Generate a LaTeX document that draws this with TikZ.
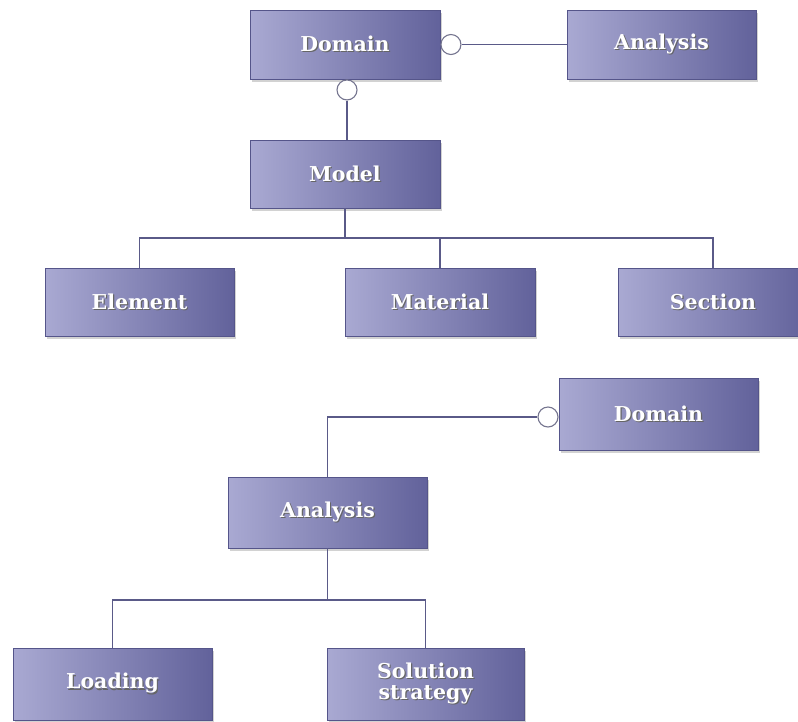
\documentclass[tikz,border=0pt]{standalone}
\usepackage{fontspec}
\setmainfont{DejaVu Serif}
\usetikzlibrary{shadows}
\definecolor{boxlight}{HTML}{A9A9D2}
\definecolor{boxdark}{HTML}{62629B}
\definecolor{boxedge}{HTML}{55558A}
\definecolor{linkcol}{HTML}{5A5A88}
\definecolor{ringcol}{HTML}{75758F}
% white label with a soft dark shadow behind it
\newcommand\shtxt[1]{\makebox[0pt][l]{\hspace{1.2pt}\raisebox{-1.2pt}{\textcolor{black!60}{#1}}}\textcolor{white}{#1}}
\tikzset{
  x=1pt, y=-1pt,
  classbox/.style={rectangle, draw=boxedge, line width=0.8pt,
    left color=boxlight, right color=boxdark,
    minimum width=190pt, minimum height=69pt, inner sep=0pt,
    font=\fontsize{20.5}{19.5}\selectfont\bfseries, align=center,
    drop shadow={opacity=0.35, shadow xshift=1.5pt, shadow yshift=-2.5pt}},
  link/.style={draw=linkcol, line width=1.4pt},
  ring/.style={circle, draw=ringcol, fill=white, line width=1.1pt,
    minimum size=20pt, inner sep=0pt}
}
\begin{document}
\begin{tikzpicture}
\useasboundingbox (0,0) rectangle (798,721);
\fill[white] (0,0) rectangle (798,721);

% --- upper diagram
\node[classbox] (dom1) at (345,44.5) {\shtxt{Domain}};
\node[classbox, minimum width=189pt] (ana1) at (661.5,44.5) {\shtxt{Analysis}};
\node[classbox, minimum height=68pt] (model) at (345,174) {\shtxt{Model}};
\node[classbox, minimum width=189pt, minimum height=68pt] (elem) at (139.5,302) {\shtxt{Element}};
\node[classbox, minimum height=68pt] (mat) at (440,302) {\shtxt{Material}};
\node[classbox, minimum height=68pt] (sec) at (713,302) {\shtxt{Section}};

\node[ring, anchor=west] (r1) at (dom1.east) {};
\node[ring, anchor=north] (r2) at ([xshift=2pt]dom1.south) {};

\draw[link] (r1.east) -- (ana1.west);
\draw[link] (r2.south) -- (model.north -| r2.south);

\coordinate (bus1) at (345,238);
\draw[link, line width=2.4pt] (model.south) -- (bus1);
\draw[link] (elem.north) |- (bus1) -| (sec.north);
\draw[link] (mat.north) -- (mat.north |- bus1);

% --- lower diagram
\node[classbox, minimum width=199pt, minimum height=72pt] (dom2) at (658.5,414) {\shtxt{Domain}};
\node[classbox, minimum width=199pt, minimum height=71pt] (ana2) at (327.5,512.5) {\shtxt{Analysis}};
\node[classbox, minimum width=199pt, minimum height=72pt] (load) at (112.5,684) {\shtxt{Loading}};
\node[classbox, minimum width=197pt, minimum height=72pt,
      font=\fontsize{20.5}{21.5}\selectfont\bfseries] (sol) at (425.5,684)
      {\shtxt{Solution}\\\shtxt{strategy}};

\node[ring] (r3) at (548,417) {};
\draw[link] (r3.west) -| (ana2.north);

\coordinate (bus2) at (327.5,600);
\draw[link] (ana2.south) -- (bus2);
\draw[link] (load.north) |- (bus2) -| (sol.north);
\end{tikzpicture}
\end{document}
